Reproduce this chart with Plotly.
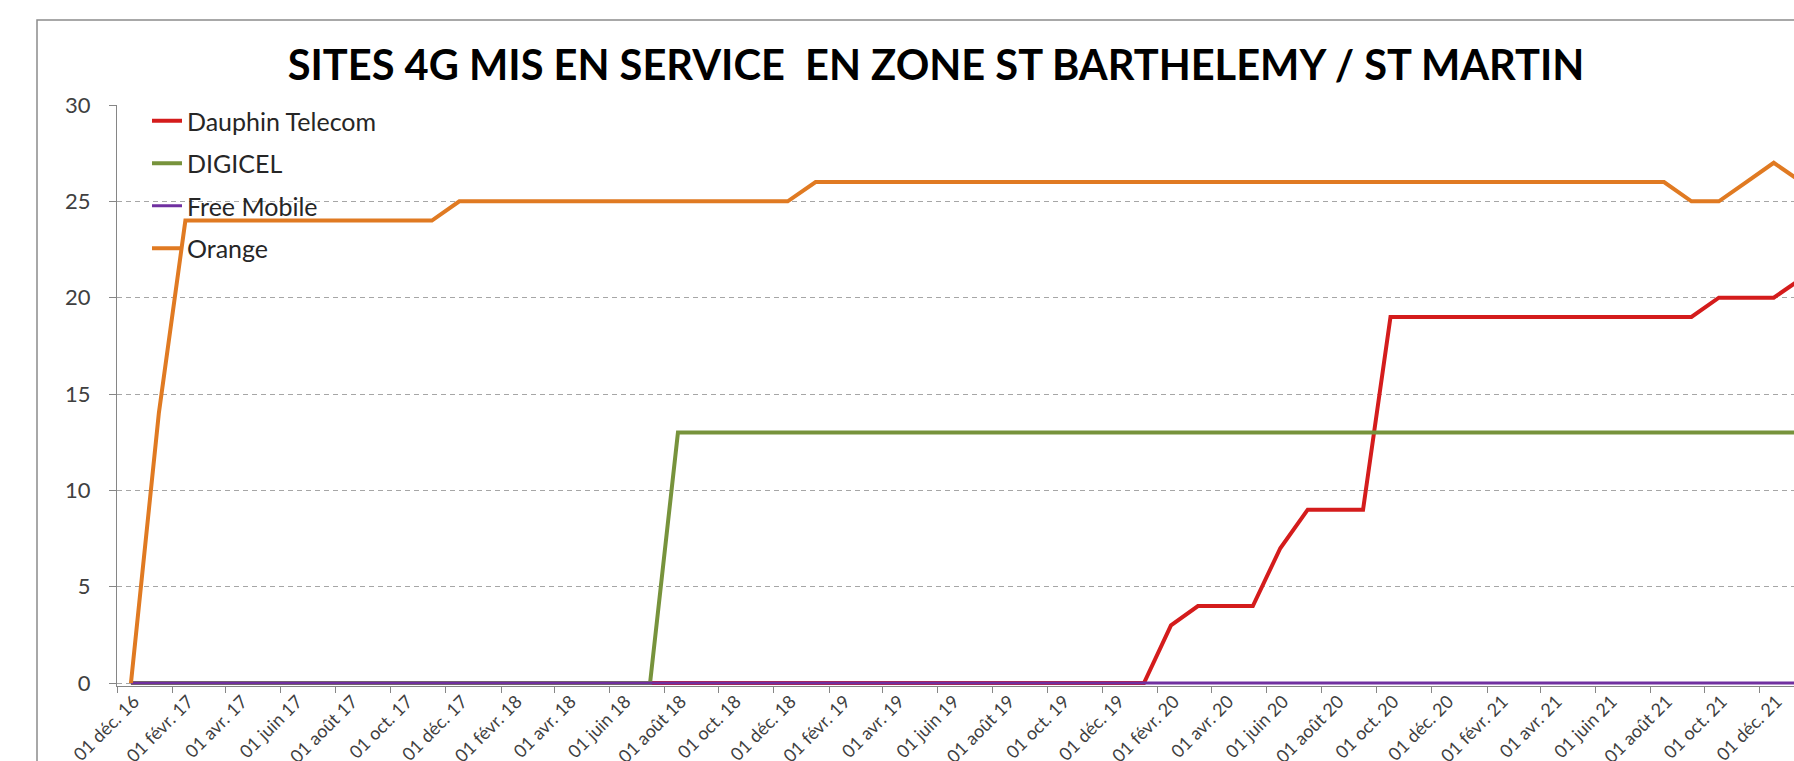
import pandas as pd
import plotly.graph_objects as go

# ---- data ----
months = [
    "2016-12-01",
    "2017-01-01", "2017-02-01", "2017-03-01", "2017-04-01", "2017-05-01", "2017-06-01",
    "2017-07-01", "2017-08-01", "2017-09-01", "2017-10-01", "2017-11-01", "2017-12-01",
    "2018-01-01", "2018-02-01", "2018-03-01", "2018-04-01", "2018-05-01", "2018-06-01",
    "2018-07-01", "2018-08-01", "2018-09-01", "2018-10-01", "2018-11-01", "2018-12-01",
    "2019-01-01", "2019-02-01", "2019-03-01", "2019-04-01", "2019-05-01", "2019-06-01",
    "2019-07-01", "2019-08-01", "2019-09-01", "2019-10-01", "2019-11-01", "2019-12-01",
    "2020-01-01", "2020-02-01", "2020-03-01", "2020-04-01", "2020-05-01", "2020-06-01",
    "2020-07-01", "2020-08-01", "2020-09-01", "2020-10-01", "2020-11-01", "2020-12-01",
    "2021-01-01", "2021-02-01", "2021-03-01", "2021-04-01", "2021-05-01", "2021-06-01",
    "2021-07-01", "2021-08-01", "2021-09-01", "2021-10-01", "2021-11-01", "2021-12-01",
    "2022-01-01",
]

dauphin_telecom = [
    0,
    0, 0, 0, 0, 0, 0, 0, 0, 0, 0, 0, 0,
    0, 0, 0, 0, 0, 0, 0, 0, 0, 0, 0, 0,
    0, 0, 0, 0, 0, 0, 0, 0, 0, 0, 0, 0,
    0, 3, 4, 4, 4, 7, 9, 9, 9, 19, 19, 19,
    19, 19, 19, 19, 19, 19, 19, 19, 19, 20, 20, 20,
    21,
]
digicel = [
    0,
    0, 0, 0, 0, 0, 0, 0, 0, 0, 0, 0, 0,
    0, 0, 0, 0, 0, 0, 0, 13, 13, 13, 13, 13,
    13, 13, 13, 13, 13, 13, 13, 13, 13, 13, 13, 13,
    13, 13, 13, 13, 13, 13, 13, 13, 13, 13, 13, 13,
    13, 13, 13, 13, 13, 13, 13, 13, 13, 13, 13, 13,
    13,
]
free_mobile = [
    0,
    0, 0, 0, 0, 0, 0, 0, 0, 0, 0, 0, 0,
    0, 0, 0, 0, 0, 0, 0, 0, 0, 0, 0, 0,
    0, 0, 0, 0, 0, 0, 0, 0, 0, 0, 0, 0,
    0, 0, 0, 0, 0, 0, 0, 0, 0, 0, 0, 0,
    0, 0, 0, 0, 0, 0, 0, 0, 0, 0, 0, 0,
    0,
]
orange = [
    0,
    14, 24, 24, 24, 24, 24, 24, 24, 24, 24, 24, 25,
    25, 25, 25, 25, 25, 25, 25, 25, 25, 25, 25, 25,
    26, 26, 26, 26, 26, 26, 26, 26, 26, 26, 26, 26,
    26, 26, 26, 26, 26, 26, 26, 26, 26, 26, 26, 26,
    26, 26, 26, 26, 26, 26, 26, 26, 25, 25, 26, 27,
    26,
]

series_names = ["Dauphin Telecom", "DIGICEL", "Free Mobile", "Orange"]
series_values = [dauphin_telecom, digicel, free_mobile, orange]
series_colors = ["#D41C1C", "#77933C", "#7030A0", "#E07A22"]
series_widths = [4, 4, 3, 4]

tick_labels = [
    "01 déc. 16",
    "01 févr. 17", "01 avr. 17", "01 juin 17", "01 août 17", "01 oct. 17", "01 déc. 17",
    "01 févr. 18", "01 avr. 18", "01 juin 18", "01 août 18", "01 oct. 18", "01 déc. 18",
    "01 févr. 19", "01 avr. 19", "01 juin 19", "01 août 19", "01 oct. 19", "01 déc. 19",
    "01 févr. 20", "01 avr. 20", "01 juin 20", "01 août 20", "01 oct. 20", "01 déc. 20",
    "01 févr. 21", "01 avr. 21", "01 juin 21", "01 août 21", "01 oct. 21", "01 déc. 21",
]

title_text = "SITES 4G MIS EN SERVICE  EN ZONE ST BARTHELEMY / ST MARTIN"

# tick positions: boundaries at month starts, labels at month middles
ts = pd.to_datetime(months)
label_starts = [ts[i] for i in range(0, len(tick_labels) * 2, 2)]
label_mids = [ts[i] + (ts[i + 1] - ts[i]) / 2 for i in range(0, len(tick_labels) * 2, 2)]

fig = go.Figure()
for name, vals, col, w in zip(series_names, series_values, series_colors, series_widths):
    fig.add_trace(go.Scatter(
        x=months, y=vals, name=name, mode="lines",
        line=dict(color=col, width=w),
        xperiod="M1", xperiodalignment="middle",
        legendgroup=name,
    ))

W, H = 1794, 761
ML, MR, MT, MB = 117, 0, 105, 75
pw, ph = W - ML - MR, H - MT - MB

def px_to_paper_x(px):
    return (px - ML) / pw

def px_to_paper_y(py):
    return (H - MB - py) / ph

fig.update_layout(
    width=W, height=H,
    margin=dict(l=ML, r=MR, t=MT, b=MB, autoexpand=False),
    paper_bgcolor="white", plot_bgcolor="white",
    title=dict(
        text=title_text, xref="container", yref="container",
        x=936 / W, y=1 - 65 / H, xanchor="center", yanchor="middle",
        font=dict(family="Lato", size=41.6, color="#000000", weight="bold"),
    ),
    legend=dict(
        x=px_to_paper_x(147), y=px_to_paper_y(98), xanchor="left", yanchor="top",
        bgcolor="rgba(0,0,0,0)", borderwidth=0,
        font=dict(family="Lato", size=25, color="#262626"),
        tracegroupgap=7, traceorder="grouped",
    ),
    showlegend=True,
)

fig.update_xaxes(
    type="date", range=["2016-12-01", "2022-01-08"],
    tickmode="array", tickvals=label_mids, ticktext=tick_labels,
    tickangle=-45, ticks="", showgrid=False,
    showline=True, linecolor="#868686", linewidth=1, zeroline=False,
    tickfont=dict(family="Lato", size=18, color="#404040"),
    ticklabelshift=3, ticklabelstandoff=-3,
    minor=dict(tickmode="array", tickvals=label_starts, ticks="outside",
               ticklen=6, tickcolor="#868686", tickwidth=1, showgrid=False),
    automargin=False,
)

fig.update_yaxes(
    range=[-0.15, 30], tickmode="linear", tick0=0, dtick=5,
    showgrid=True, gridcolor="#A6A6A6", gridwidth=1, griddash="5px,4px",
    showline=True, linecolor="#868686", linewidth=1, zeroline=False,
    ticks="outside", ticklen=7, tickcolor="#868686",
    tickfont=dict(family="Lato", size=22, color="#404040"),
    ticklabelstandoff=14,
    automargin=False,
)

# chart frame (cut off by the picture at right and bottom)
fig.add_shape(
    type="rect", xref="paper", yref="paper",
    x0=px_to_paper_x(37), x1=px_to_paper_x(W + 50),
    y0=px_to_paper_y(H + 50), y1=px_to_paper_y(20),
    line=dict(color="#8C8C8C", width=1.5), fillcolor="rgba(0,0,0,0)",
    layer="below",
)

fig.write_html("out.html", config={"displayModeBar": False},
               post_script="document.body.style.margin='0';")
